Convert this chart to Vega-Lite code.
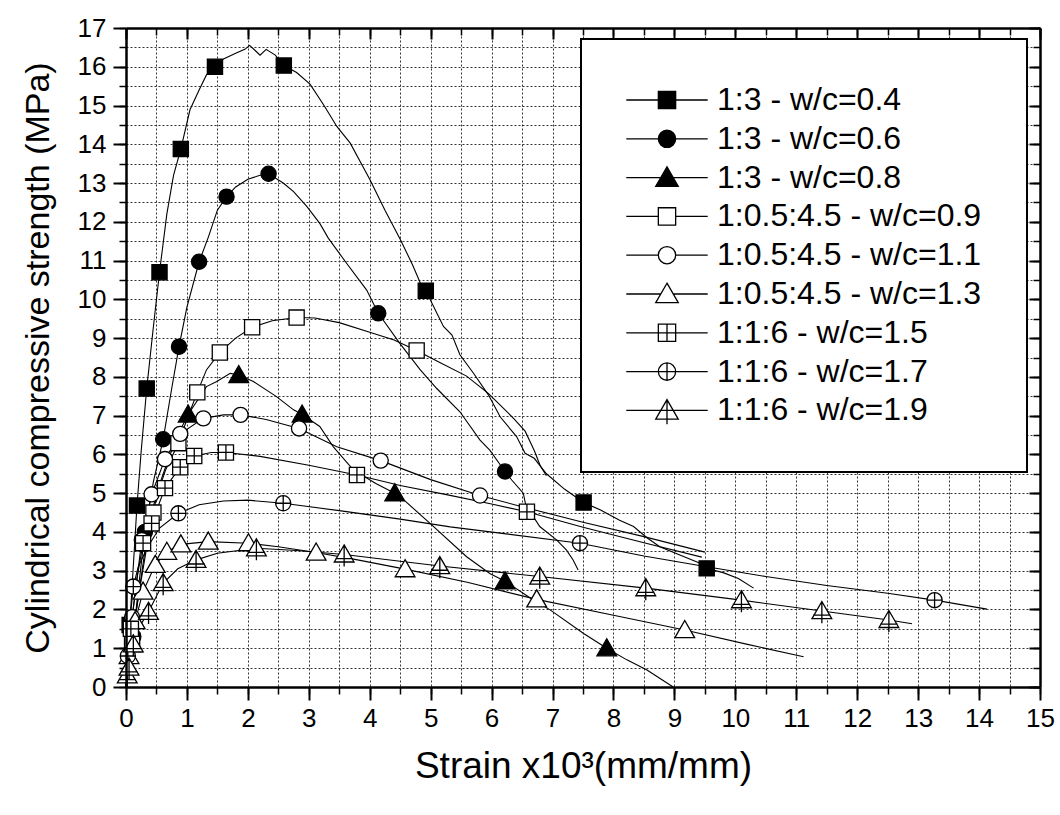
{
  "$schema": "https://vega.github.io/schema/vega-lite/v6.json",
  "width": 914,
  "height": 659,
  "autosize": "none",
  "padding": {"left": 126, "top": 28, "right": 20, "bottom": 128},
  "background": "white",
  "config": {
    "font": "Liberation Sans",
    "view": {"stroke": null},
    "legend": {"strokeWidth": 2},
    "axis": {"labelFont": "Liberation Sans", "titleFont": "Liberation Sans", "domainColor": "black", "tickColor": "black", "labelColor": "black", "titleColor": "black", "titleFontWeight": "normal"}
  },
  "datasets": {
    "curves": [
      {"series": "1:3 - w/c=0.4", "strain": 0, "stress": 0},
      {"series": "1:3 - w/c=0.4", "strain": 0.05, "stress": 1.3},
      {"series": "1:3 - w/c=0.4", "strain": 0.1, "stress": 2.6},
      {"series": "1:3 - w/c=0.4", "strain": 0.18, "stress": 4.68},
      {"series": "1:3 - w/c=0.4", "strain": 0.25, "stress": 6.1},
      {"series": "1:3 - w/c=0.4", "strain": 0.34, "stress": 7.7},
      {"series": "1:3 - w/c=0.4", "strain": 0.45, "stress": 9.3},
      {"series": "1:3 - w/c=0.4", "strain": 0.55, "stress": 10.7},
      {"series": "1:3 - w/c=0.4", "strain": 0.67, "stress": 12.2},
      {"series": "1:3 - w/c=0.4", "strain": 0.78, "stress": 13.2},
      {"series": "1:3 - w/c=0.4", "strain": 0.9, "stress": 13.88},
      {"series": "1:3 - w/c=0.4", "strain": 1.05, "stress": 14.89},
      {"series": "1:3 - w/c=0.4", "strain": 1.2, "stress": 15.4},
      {"series": "1:3 - w/c=0.4", "strain": 1.32, "stress": 15.79},
      {"series": "1:3 - w/c=0.4", "strain": 1.46, "stress": 16.0},
      {"series": "1:3 - w/c=0.4", "strain": 1.6, "stress": 16.2},
      {"series": "1:3 - w/c=0.4", "strain": 1.8, "stress": 16.35},
      {"series": "1:3 - w/c=0.4", "strain": 1.95, "stress": 16.45},
      {"series": "1:3 - w/c=0.4", "strain": 2.03, "stress": 16.55},
      {"series": "1:3 - w/c=0.4", "strain": 2.12, "stress": 16.42},
      {"series": "1:3 - w/c=0.4", "strain": 2.2, "stress": 16.3},
      {"series": "1:3 - w/c=0.4", "strain": 2.3, "stress": 16.45},
      {"series": "1:3 - w/c=0.4", "strain": 2.45, "stress": 16.3},
      {"series": "1:3 - w/c=0.4", "strain": 2.59, "stress": 16.03},
      {"series": "1:3 - w/c=0.4", "strain": 2.8, "stress": 15.85},
      {"series": "1:3 - w/c=0.4", "strain": 3.02, "stress": 15.55},
      {"series": "1:3 - w/c=0.4", "strain": 3.25, "stress": 15.0},
      {"series": "1:3 - w/c=0.4", "strain": 3.46, "stress": 14.46},
      {"series": "1:3 - w/c=0.4", "strain": 3.68, "stress": 14.03},
      {"series": "1:3 - w/c=0.4", "strain": 4.0, "stress": 13.1},
      {"series": "1:3 - w/c=0.4", "strain": 4.25, "stress": 12.3},
      {"series": "1:3 - w/c=0.4", "strain": 4.5, "stress": 11.55},
      {"series": "1:3 - w/c=0.4", "strain": 4.7, "stress": 10.9},
      {"series": "1:3 - w/c=0.4", "strain": 4.83, "stress": 10.42},
      {"series": "1:3 - w/c=0.4", "strain": 4.92, "stress": 10.22},
      {"series": "1:3 - w/c=0.4", "strain": 5.21, "stress": 9.3},
      {"series": "1:3 - w/c=0.4", "strain": 5.35, "stress": 9.08},
      {"series": "1:3 - w/c=0.4", "strain": 5.48, "stress": 8.57},
      {"series": "1:3 - w/c=0.4", "strain": 5.7, "stress": 8.1},
      {"series": "1:3 - w/c=0.4", "strain": 5.95, "stress": 7.53},
      {"series": "1:3 - w/c=0.4", "strain": 6.14, "stress": 6.97},
      {"series": "1:3 - w/c=0.4", "strain": 6.41, "stress": 6.46},
      {"series": "1:3 - w/c=0.4", "strain": 6.55, "stress": 6.03},
      {"series": "1:3 - w/c=0.4", "strain": 6.7, "stress": 5.9},
      {"series": "1:3 - w/c=0.4", "strain": 6.9, "stress": 5.5},
      {"series": "1:3 - w/c=0.4", "strain": 7.2, "stress": 5.1},
      {"series": "1:3 - w/c=0.4", "strain": 7.51, "stress": 4.76},
      {"series": "1:3 - w/c=0.4", "strain": 7.78, "stress": 4.57},
      {"series": "1:3 - w/c=0.4", "strain": 8.1, "stress": 4.3},
      {"series": "1:3 - w/c=0.4", "strain": 8.33, "stress": 4.14},
      {"series": "1:3 - w/c=0.4", "strain": 8.55, "stress": 3.85},
      {"series": "1:3 - w/c=0.4", "strain": 8.76, "stress": 3.62},
      {"series": "1:3 - w/c=0.4", "strain": 9.1, "stress": 3.4},
      {"series": "1:3 - w/c=0.4", "strain": 9.42, "stress": 3.19},
      {"series": "1:3 - w/c=0.4", "strain": 9.53, "stress": 3.06},
      {"series": "1:3 - w/c=0.4", "strain": 9.8, "stress": 2.95},
      {"series": "1:3 - w/c=0.4", "strain": 10.05, "stress": 2.8},
      {"series": "1:3 - w/c=0.4", "strain": 10.3, "stress": 2.55},
      {"series": "1:3 - w/c=0.6", "strain": 0, "stress": 0},
      {"series": "1:3 - w/c=0.6", "strain": 0.12, "stress": 1.3},
      {"series": "1:3 - w/c=0.6", "strain": 0.2, "stress": 2.5},
      {"series": "1:3 - w/c=0.6", "strain": 0.31, "stress": 4.0},
      {"series": "1:3 - w/c=0.6", "strain": 0.45, "stress": 5.3},
      {"series": "1:3 - w/c=0.6", "strain": 0.61, "stress": 6.39},
      {"series": "1:3 - w/c=0.6", "strain": 0.75, "stress": 7.7},
      {"series": "1:3 - w/c=0.6", "strain": 0.87, "stress": 8.78},
      {"series": "1:3 - w/c=0.6", "strain": 1.0, "stress": 9.8},
      {"series": "1:3 - w/c=0.6", "strain": 1.2, "stress": 10.97},
      {"series": "1:3 - w/c=0.6", "strain": 1.35, "stress": 11.6},
      {"series": "1:3 - w/c=0.6", "strain": 1.5, "stress": 12.3},
      {"series": "1:3 - w/c=0.6", "strain": 1.65, "stress": 12.65},
      {"series": "1:3 - w/c=0.6", "strain": 1.8, "stress": 12.9},
      {"series": "1:3 - w/c=0.6", "strain": 2.0, "stress": 13.1},
      {"series": "1:3 - w/c=0.6", "strain": 2.2, "stress": 13.2},
      {"series": "1:3 - w/c=0.6", "strain": 2.34, "stress": 13.24},
      {"series": "1:3 - w/c=0.6", "strain": 2.58, "stress": 13.0},
      {"series": "1:3 - w/c=0.6", "strain": 2.75, "stress": 12.78},
      {"series": "1:3 - w/c=0.6", "strain": 2.97, "stress": 12.39},
      {"series": "1:3 - w/c=0.6", "strain": 3.18, "stress": 11.96},
      {"series": "1:3 - w/c=0.6", "strain": 3.32, "stress": 11.58},
      {"series": "1:3 - w/c=0.6", "strain": 3.62, "stress": 10.93},
      {"series": "1:3 - w/c=0.6", "strain": 3.95, "stress": 10.24},
      {"series": "1:3 - w/c=0.6", "strain": 4.14, "stress": 9.64},
      {"series": "1:3 - w/c=0.6", "strain": 4.5, "stress": 8.85},
      {"series": "1:3 - w/c=0.6", "strain": 4.83, "stress": 8.18},
      {"series": "1:3 - w/c=0.6", "strain": 5.1, "stress": 7.7},
      {"series": "1:3 - w/c=0.6", "strain": 5.48, "stress": 7.1},
      {"series": "1:3 - w/c=0.6", "strain": 5.81, "stress": 6.37},
      {"series": "1:3 - w/c=0.6", "strain": 5.97, "stress": 6.11},
      {"series": "1:3 - w/c=0.6", "strain": 6.22, "stress": 5.56},
      {"series": "1:3 - w/c=0.6", "strain": 6.33, "stress": 5.34},
      {"series": "1:3 - w/c=0.6", "strain": 6.52, "stress": 5.0},
      {"series": "1:3 - w/c=0.6", "strain": 6.56, "stress": 4.7},
      {"series": "1:3 - w/c=0.6", "strain": 6.79, "stress": 4.14},
      {"series": "1:3 - w/c=0.6", "strain": 7.07, "stress": 3.79},
      {"series": "1:3 - w/c=0.6", "strain": 7.23, "stress": 3.53},
      {"series": "1:3 - w/c=0.6", "strain": 7.34, "stress": 3.27},
      {"series": "1:3 - w/c=0.6", "strain": 7.42, "stress": 3.02},
      {"series": "1:3 - w/c=0.8", "strain": 0, "stress": 0},
      {"series": "1:3 - w/c=0.8", "strain": 0.1, "stress": 1.25},
      {"series": "1:3 - w/c=0.8", "strain": 0.2, "stress": 2.3},
      {"series": "1:3 - w/c=0.8", "strain": 0.35, "stress": 3.95},
      {"series": "1:3 - w/c=0.8", "strain": 0.5, "stress": 5.0},
      {"series": "1:3 - w/c=0.8", "strain": 0.7, "stress": 5.9},
      {"series": "1:3 - w/c=0.8", "strain": 0.85, "stress": 6.5},
      {"series": "1:3 - w/c=0.8", "strain": 1.02, "stress": 7.03},
      {"series": "1:3 - w/c=0.8", "strain": 1.32, "stress": 7.75},
      {"series": "1:3 - w/c=0.8", "strain": 1.49, "stress": 7.88},
      {"series": "1:3 - w/c=0.8", "strain": 1.71, "stress": 8.09},
      {"series": "1:3 - w/c=0.8", "strain": 1.85, "stress": 8.05},
      {"series": "1:3 - w/c=0.8", "strain": 2.09, "stress": 7.88},
      {"series": "1:3 - w/c=0.8", "strain": 2.47, "stress": 7.49},
      {"series": "1:3 - w/c=0.8", "strain": 2.75, "stress": 7.15},
      {"series": "1:3 - w/c=0.8", "strain": 2.89, "stress": 7.03},
      {"series": "1:3 - w/c=0.8", "strain": 3.18, "stress": 6.72},
      {"series": "1:3 - w/c=0.8", "strain": 3.4, "stress": 6.2},
      {"series": "1:3 - w/c=0.8", "strain": 3.73, "stress": 5.6},
      {"series": "1:3 - w/c=0.8", "strain": 4.1, "stress": 5.25},
      {"series": "1:3 - w/c=0.8", "strain": 4.41, "stress": 5.0},
      {"series": "1:3 - w/c=0.8", "strain": 4.5, "stress": 4.91},
      {"series": "1:3 - w/c=0.8", "strain": 4.99, "stress": 4.22},
      {"series": "1:3 - w/c=0.8", "strain": 5.59, "stress": 3.36},
      {"series": "1:3 - w/c=0.8", "strain": 5.97, "stress": 2.93},
      {"series": "1:3 - w/c=0.8", "strain": 6.22, "stress": 2.73},
      {"series": "1:3 - w/c=0.8", "strain": 6.69, "stress": 2.24},
      {"series": "1:3 - w/c=0.8", "strain": 6.96, "stress": 1.99},
      {"series": "1:3 - w/c=0.8", "strain": 7.51, "stress": 1.38},
      {"series": "1:3 - w/c=0.8", "strain": 7.89, "stress": 1.0},
      {"series": "1:3 - w/c=0.8", "strain": 8.22, "stress": 0.7},
      {"series": "1:3 - w/c=0.8", "strain": 8.55, "stress": 0.44},
      {"series": "1:3 - w/c=0.8", "strain": 8.98, "stress": 0.0},
      {"series": "1:0.5:4.5 - w/c=0.9", "strain": 0, "stress": 0},
      {"series": "1:0.5:4.5 - w/c=0.9", "strain": 0.1, "stress": 1.2},
      {"series": "1:0.5:4.5 - w/c=0.9", "strain": 0.2, "stress": 2.3},
      {"series": "1:0.5:4.5 - w/c=0.9", "strain": 0.35, "stress": 3.7},
      {"series": "1:0.5:4.5 - w/c=0.9", "strain": 0.5, "stress": 4.9},
      {"series": "1:0.5:4.5 - w/c=0.9", "strain": 0.65, "stress": 5.6},
      {"series": "1:0.5:4.5 - w/c=0.9", "strain": 0.86, "stress": 6.29},
      {"series": "1:0.5:4.5 - w/c=0.9", "strain": 1.0, "stress": 6.9},
      {"series": "1:0.5:4.5 - w/c=0.9", "strain": 1.17, "stress": 7.6},
      {"series": "1:0.5:4.5 - w/c=0.9", "strain": 1.32, "stress": 8.18},
      {"series": "1:0.5:4.5 - w/c=0.9", "strain": 1.54, "stress": 8.63},
      {"series": "1:0.5:4.5 - w/c=0.9", "strain": 1.8, "stress": 9.0},
      {"series": "1:0.5:4.5 - w/c=0.9", "strain": 2.07, "stress": 9.28},
      {"series": "1:0.5:4.5 - w/c=0.9", "strain": 2.4, "stress": 9.45},
      {"series": "1:0.5:4.5 - w/c=0.9", "strain": 2.8, "stress": 9.53},
      {"series": "1:0.5:4.5 - w/c=0.9", "strain": 3.1, "stress": 9.52},
      {"series": "1:0.5:4.5 - w/c=0.9", "strain": 3.5, "stress": 9.4},
      {"series": "1:0.5:4.5 - w/c=0.9", "strain": 4.0, "stress": 9.15},
      {"series": "1:0.5:4.5 - w/c=0.9", "strain": 4.4, "stress": 8.95},
      {"series": "1:0.5:4.5 - w/c=0.9", "strain": 4.77, "stress": 8.68},
      {"series": "1:0.5:4.5 - w/c=0.9", "strain": 5.15, "stress": 8.37},
      {"series": "1:0.5:4.5 - w/c=0.9", "strain": 5.59, "stress": 8.02},
      {"series": "1:0.5:4.5 - w/c=0.9", "strain": 5.95, "stress": 7.57},
      {"series": "1:0.5:4.5 - w/c=0.9", "strain": 6.36, "stress": 6.93},
      {"series": "1:0.5:4.5 - w/c=0.9", "strain": 6.55, "stress": 6.6},
      {"series": "1:0.5:4.5 - w/c=0.9", "strain": 6.7, "stress": 6.1},
      {"series": "1:0.5:4.5 - w/c=0.9", "strain": 6.8, "stress": 5.7},
      {"series": "1:0.5:4.5 - w/c=0.9", "strain": 6.9, "stress": 5.45},
      {"series": "1:0.5:4.5 - w/c=1.1", "strain": 0, "stress": 0},
      {"series": "1:0.5:4.5 - w/c=1.1", "strain": 0.1, "stress": 1.8},
      {"series": "1:0.5:4.5 - w/c=1.1", "strain": 0.26, "stress": 3.79},
      {"series": "1:0.5:4.5 - w/c=1.1", "strain": 0.42, "stress": 4.97},
      {"series": "1:0.5:4.5 - w/c=1.1", "strain": 0.64, "stress": 5.88},
      {"series": "1:0.5:4.5 - w/c=1.1", "strain": 0.89, "stress": 6.53},
      {"series": "1:0.5:4.5 - w/c=1.1", "strain": 1.27, "stress": 6.93},
      {"series": "1:0.5:4.5 - w/c=1.1", "strain": 1.6, "stress": 7.02},
      {"series": "1:0.5:4.5 - w/c=1.1", "strain": 1.88, "stress": 7.02},
      {"series": "1:0.5:4.5 - w/c=1.1", "strain": 2.3, "stress": 6.9},
      {"series": "1:0.5:4.5 - w/c=1.1", "strain": 2.84, "stress": 6.67},
      {"series": "1:0.5:4.5 - w/c=1.1", "strain": 3.46, "stress": 6.2},
      {"series": "1:0.5:4.5 - w/c=1.1", "strain": 4.18, "stress": 5.84},
      {"series": "1:0.5:4.5 - w/c=1.1", "strain": 5.0, "stress": 5.35},
      {"series": "1:0.5:4.5 - w/c=1.1", "strain": 5.81, "stress": 4.94},
      {"series": "1:0.5:4.5 - w/c=1.1", "strain": 6.5, "stress": 4.65},
      {"series": "1:0.5:4.5 - w/c=1.1", "strain": 7.5, "stress": 4.25},
      {"series": "1:0.5:4.5 - w/c=1.1", "strain": 8.5, "stress": 3.88},
      {"series": "1:0.5:4.5 - w/c=1.1", "strain": 9.5, "stress": 3.48},
      {"series": "1:0.5:4.5 - w/c=1.3", "strain": 0, "stress": 0},
      {"series": "1:0.5:4.5 - w/c=1.3", "strain": 0.05, "stress": 0.8},
      {"series": "1:0.5:4.5 - w/c=1.3", "strain": 0.15, "stress": 1.7},
      {"series": "1:0.5:4.5 - w/c=1.3", "strain": 0.28, "stress": 2.46},
      {"series": "1:0.5:4.5 - w/c=1.3", "strain": 0.48, "stress": 3.15},
      {"series": "1:0.5:4.5 - w/c=1.3", "strain": 0.67, "stress": 3.49},
      {"series": "1:0.5:4.5 - w/c=1.3", "strain": 0.9, "stress": 3.68},
      {"series": "1:0.5:4.5 - w/c=1.3", "strain": 1.35, "stress": 3.75},
      {"series": "1:0.5:4.5 - w/c=1.3", "strain": 2.01, "stress": 3.71},
      {"series": "1:0.5:4.5 - w/c=1.3", "strain": 2.5, "stress": 3.62},
      {"series": "1:0.5:4.5 - w/c=1.3", "strain": 3.12, "stress": 3.47},
      {"series": "1:0.5:4.5 - w/c=1.3", "strain": 3.8, "stress": 3.28},
      {"series": "1:0.5:4.5 - w/c=1.3", "strain": 4.58, "stress": 3.04},
      {"series": "1:0.5:4.5 - w/c=1.3", "strain": 5.6, "stress": 2.7},
      {"series": "1:0.5:4.5 - w/c=1.3", "strain": 6.74, "stress": 2.26},
      {"series": "1:0.5:4.5 - w/c=1.3", "strain": 8.0, "stress": 1.85},
      {"series": "1:0.5:4.5 - w/c=1.3", "strain": 9.17, "stress": 1.47},
      {"series": "1:0.5:4.5 - w/c=1.3", "strain": 10.2, "stress": 1.1},
      {"series": "1:0.5:4.5 - w/c=1.3", "strain": 11.12, "stress": 0.78},
      {"series": "1:1:6 - w/c=1.5", "strain": 0, "stress": 0},
      {"series": "1:1:6 - w/c=1.5", "strain": 0.04, "stress": 1.0},
      {"series": "1:1:6 - w/c=1.5", "strain": 0.08, "stress": 1.5},
      {"series": "1:1:6 - w/c=1.5", "strain": 0.18, "stress": 2.8},
      {"series": "1:1:6 - w/c=1.5", "strain": 0.28, "stress": 3.71},
      {"series": "1:1:6 - w/c=1.5", "strain": 0.42, "stress": 4.22},
      {"series": "1:1:6 - w/c=1.5", "strain": 0.64, "stress": 5.13},
      {"series": "1:1:6 - w/c=1.5", "strain": 0.89, "stress": 5.67},
      {"series": "1:1:6 - w/c=1.5", "strain": 1.12, "stress": 5.96},
      {"series": "1:1:6 - w/c=1.5", "strain": 1.4, "stress": 6.05},
      {"series": "1:1:6 - w/c=1.5", "strain": 1.64, "stress": 6.05},
      {"series": "1:1:6 - w/c=1.5", "strain": 2.2, "stress": 5.95},
      {"series": "1:1:6 - w/c=1.5", "strain": 3.0, "stress": 5.72},
      {"series": "1:1:6 - w/c=1.5", "strain": 3.79, "stress": 5.47},
      {"series": "1:1:6 - w/c=1.5", "strain": 4.5, "stress": 5.2},
      {"series": "1:1:6 - w/c=1.5", "strain": 5.3, "stress": 4.95},
      {"series": "1:1:6 - w/c=1.5", "strain": 6.0, "stress": 4.72},
      {"series": "1:1:6 - w/c=1.5", "strain": 6.58, "stress": 4.52},
      {"series": "1:1:6 - w/c=1.5", "strain": 7.5, "stress": 4.12},
      {"series": "1:1:6 - w/c=1.5", "strain": 8.5, "stress": 3.72},
      {"series": "1:1:6 - w/c=1.5", "strain": 9.45, "stress": 3.35},
      {"series": "1:1:6 - w/c=1.7", "strain": 0, "stress": 0},
      {"series": "1:1:6 - w/c=1.7", "strain": 0.03, "stress": 0.8},
      {"series": "1:1:6 - w/c=1.7", "strain": 0.07, "stress": 1.8},
      {"series": "1:1:6 - w/c=1.7", "strain": 0.12, "stress": 2.59},
      {"series": "1:1:6 - w/c=1.7", "strain": 0.2, "stress": 3.1},
      {"series": "1:1:6 - w/c=1.7", "strain": 0.35, "stress": 3.6},
      {"series": "1:1:6 - w/c=1.7", "strain": 0.55, "stress": 4.1},
      {"series": "1:1:6 - w/c=1.7", "strain": 0.86, "stress": 4.48},
      {"series": "1:1:6 - w/c=1.7", "strain": 1.2, "stress": 4.7},
      {"series": "1:1:6 - w/c=1.7", "strain": 1.6, "stress": 4.8},
      {"series": "1:1:6 - w/c=1.7", "strain": 2.0, "stress": 4.82},
      {"series": "1:1:6 - w/c=1.7", "strain": 2.58, "stress": 4.74},
      {"series": "1:1:6 - w/c=1.7", "strain": 3.5, "stress": 4.55},
      {"series": "1:1:6 - w/c=1.7", "strain": 4.5, "stress": 4.33},
      {"series": "1:1:6 - w/c=1.7", "strain": 5.32, "stress": 4.13},
      {"series": "1:1:6 - w/c=1.7", "strain": 6.14, "stress": 3.97},
      {"series": "1:1:6 - w/c=1.7", "strain": 7.45, "stress": 3.71},
      {"series": "1:1:6 - w/c=1.7", "strain": 8.5, "stress": 3.38},
      {"series": "1:1:6 - w/c=1.7", "strain": 9.53, "stress": 3.1},
      {"series": "1:1:6 - w/c=1.7", "strain": 10.5, "stress": 2.85},
      {"series": "1:1:6 - w/c=1.7", "strain": 11.5, "stress": 2.62},
      {"series": "1:1:6 - w/c=1.7", "strain": 12.5, "stress": 2.42},
      {"series": "1:1:6 - w/c=1.7", "strain": 13.27, "stress": 2.24},
      {"series": "1:1:6 - w/c=1.7", "strain": 14.13, "stress": 2.01},
      {"series": "1:1:6 - w/c=1.9", "strain": 0, "stress": 0},
      {"series": "1:1:6 - w/c=1.9", "strain": 0.05, "stress": 0.5},
      {"series": "1:1:6 - w/c=1.9", "strain": 0.12, "stress": 1.1},
      {"series": "1:1:6 - w/c=1.9", "strain": 0.2, "stress": 1.5},
      {"series": "1:1:6 - w/c=1.9", "strain": 0.37, "stress": 1.94},
      {"series": "1:1:6 - w/c=1.9", "strain": 0.61, "stress": 2.68},
      {"series": "1:1:6 - w/c=1.9", "strain": 0.85, "stress": 3.05},
      {"series": "1:1:6 - w/c=1.9", "strain": 1.15, "stress": 3.28},
      {"series": "1:1:6 - w/c=1.9", "strain": 1.5, "stress": 3.45},
      {"series": "1:1:6 - w/c=1.9", "strain": 2.14, "stress": 3.58},
      {"series": "1:1:6 - w/c=1.9", "strain": 2.8, "stress": 3.52},
      {"series": "1:1:6 - w/c=1.9", "strain": 3.58, "stress": 3.42},
      {"series": "1:1:6 - w/c=1.9", "strain": 5.15, "stress": 3.12},
      {"series": "1:1:6 - w/c=1.9", "strain": 6.79, "stress": 2.85},
      {"series": "1:1:6 - w/c=1.9", "strain": 8.53, "stress": 2.55},
      {"series": "1:1:6 - w/c=1.9", "strain": 10.1, "stress": 2.24},
      {"series": "1:1:6 - w/c=1.9", "strain": 11.42, "stress": 1.96},
      {"series": "1:1:6 - w/c=1.9", "strain": 12.52, "stress": 1.73},
      {"series": "1:1:6 - w/c=1.9", "strain": 12.9, "stress": 1.63}
    ],
    "markers": [
      {"series": "1:3 - w/c=0.4", "strain": 0.06, "stress": 1.6},
      {"series": "1:3 - w/c=0.4", "strain": 0.18, "stress": 4.68},
      {"series": "1:3 - w/c=0.4", "strain": 0.34, "stress": 7.7},
      {"series": "1:3 - w/c=0.4", "strain": 0.55, "stress": 10.7},
      {"series": "1:3 - w/c=0.4", "strain": 0.9, "stress": 13.88},
      {"series": "1:3 - w/c=0.4", "strain": 1.46, "stress": 16.0},
      {"series": "1:3 - w/c=0.4", "strain": 2.59, "stress": 16.03},
      {"series": "1:3 - w/c=0.4", "strain": 4.92, "stress": 10.22},
      {"series": "1:3 - w/c=0.4", "strain": 7.51, "stress": 4.76},
      {"series": "1:3 - w/c=0.4", "strain": 9.53, "stress": 3.06},
      {"series": "1:3 - w/c=0.6", "strain": 0.12, "stress": 1.3},
      {"series": "1:3 - w/c=0.6", "strain": 0.31, "stress": 4.0},
      {"series": "1:3 - w/c=0.6", "strain": 0.61, "stress": 6.39},
      {"series": "1:3 - w/c=0.6", "strain": 0.87, "stress": 8.78},
      {"series": "1:3 - w/c=0.6", "strain": 1.2, "stress": 10.97},
      {"series": "1:3 - w/c=0.6", "strain": 1.65, "stress": 12.65},
      {"series": "1:3 - w/c=0.6", "strain": 2.34, "stress": 13.24},
      {"series": "1:3 - w/c=0.6", "strain": 4.14, "stress": 9.64},
      {"series": "1:3 - w/c=0.6", "strain": 6.22, "stress": 5.56},
      {"series": "1:3 - w/c=0.8", "strain": 0.1, "stress": 1.1},
      {"series": "1:3 - w/c=0.8", "strain": 1.02, "stress": 7.03},
      {"series": "1:3 - w/c=0.8", "strain": 1.85, "stress": 8.05},
      {"series": "1:3 - w/c=0.8", "strain": 2.89, "stress": 7.03},
      {"series": "1:3 - w/c=0.8", "strain": 4.41, "stress": 5.0},
      {"series": "1:3 - w/c=0.8", "strain": 6.22, "stress": 2.73},
      {"series": "1:3 - w/c=0.8", "strain": 7.89, "stress": 1.0},
      {"series": "1:0.5:4.5 - w/c=0.9", "strain": 0.1, "stress": 1.2},
      {"series": "1:0.5:4.5 - w/c=0.9", "strain": 0.45, "stress": 4.5},
      {"series": "1:0.5:4.5 - w/c=0.9", "strain": 0.86, "stress": 6.29},
      {"series": "1:0.5:4.5 - w/c=0.9", "strain": 1.17, "stress": 7.6},
      {"series": "1:0.5:4.5 - w/c=0.9", "strain": 1.54, "stress": 8.63},
      {"series": "1:0.5:4.5 - w/c=0.9", "strain": 2.07, "stress": 9.28},
      {"series": "1:0.5:4.5 - w/c=0.9", "strain": 2.8, "stress": 9.53},
      {"series": "1:0.5:4.5 - w/c=0.9", "strain": 4.77, "stress": 8.68},
      {"series": "1:0.5:4.5 - w/c=1.1", "strain": 0.1, "stress": 1.8},
      {"series": "1:0.5:4.5 - w/c=1.1", "strain": 0.26, "stress": 3.79},
      {"series": "1:0.5:4.5 - w/c=1.1", "strain": 0.42, "stress": 4.97},
      {"series": "1:0.5:4.5 - w/c=1.1", "strain": 0.64, "stress": 5.88},
      {"series": "1:0.5:4.5 - w/c=1.1", "strain": 0.89, "stress": 6.53},
      {"series": "1:0.5:4.5 - w/c=1.1", "strain": 1.27, "stress": 6.93},
      {"series": "1:0.5:4.5 - w/c=1.1", "strain": 1.88, "stress": 7.02},
      {"series": "1:0.5:4.5 - w/c=1.1", "strain": 2.84, "stress": 6.67},
      {"series": "1:0.5:4.5 - w/c=1.1", "strain": 4.18, "stress": 5.84},
      {"series": "1:0.5:4.5 - w/c=1.1", "strain": 5.81, "stress": 4.94},
      {"series": "1:0.5:4.5 - w/c=1.3", "strain": 0.05, "stress": 0.8},
      {"series": "1:0.5:4.5 - w/c=1.3", "strain": 0.15, "stress": 1.7},
      {"series": "1:0.5:4.5 - w/c=1.3", "strain": 0.28, "stress": 2.46},
      {"series": "1:0.5:4.5 - w/c=1.3", "strain": 0.48, "stress": 3.15},
      {"series": "1:0.5:4.5 - w/c=1.3", "strain": 0.67, "stress": 3.49},
      {"series": "1:0.5:4.5 - w/c=1.3", "strain": 0.9, "stress": 3.68},
      {"series": "1:0.5:4.5 - w/c=1.3", "strain": 1.35, "stress": 3.75},
      {"series": "1:0.5:4.5 - w/c=1.3", "strain": 2.01, "stress": 3.71},
      {"series": "1:0.5:4.5 - w/c=1.3", "strain": 3.12, "stress": 3.47},
      {"series": "1:0.5:4.5 - w/c=1.3", "strain": 4.58, "stress": 3.04},
      {"series": "1:0.5:4.5 - w/c=1.3", "strain": 6.74, "stress": 2.26},
      {"series": "1:0.5:4.5 - w/c=1.3", "strain": 9.17, "stress": 1.47},
      {"series": "1:1:6 - w/c=1.5", "strain": 0.08, "stress": 1.5},
      {"series": "1:1:6 - w/c=1.5", "strain": 0.28, "stress": 3.71},
      {"series": "1:1:6 - w/c=1.5", "strain": 0.42, "stress": 4.22},
      {"series": "1:1:6 - w/c=1.5", "strain": 0.64, "stress": 5.13},
      {"series": "1:1:6 - w/c=1.5", "strain": 0.89, "stress": 5.67},
      {"series": "1:1:6 - w/c=1.5", "strain": 1.12, "stress": 5.96},
      {"series": "1:1:6 - w/c=1.5", "strain": 1.64, "stress": 6.05},
      {"series": "1:1:6 - w/c=1.5", "strain": 3.79, "stress": 5.47},
      {"series": "1:1:6 - w/c=1.5", "strain": 6.58, "stress": 4.52},
      {"series": "1:1:6 - w/c=1.7", "strain": 0.03, "stress": 0.8},
      {"series": "1:1:6 - w/c=1.7", "strain": 0.12, "stress": 2.59},
      {"series": "1:1:6 - w/c=1.7", "strain": 0.86, "stress": 4.48},
      {"series": "1:1:6 - w/c=1.7", "strain": 2.58, "stress": 4.74},
      {"series": "1:1:6 - w/c=1.7", "strain": 7.45, "stress": 3.71},
      {"series": "1:1:6 - w/c=1.7", "strain": 13.27, "stress": 2.24},
      {"series": "1:1:6 - w/c=1.9", "strain": 0.02, "stress": 0.3},
      {"series": "1:1:6 - w/c=1.9", "strain": 0.05, "stress": 0.5},
      {"series": "1:1:6 - w/c=1.9", "strain": 0.12, "stress": 1.1},
      {"series": "1:1:6 - w/c=1.9", "strain": 0.37, "stress": 1.94},
      {"series": "1:1:6 - w/c=1.9", "strain": 0.61, "stress": 2.68},
      {"series": "1:1:6 - w/c=1.9", "strain": 1.15, "stress": 3.28},
      {"series": "1:1:6 - w/c=1.9", "strain": 2.14, "stress": 3.58},
      {"series": "1:1:6 - w/c=1.9", "strain": 3.58, "stress": 3.42},
      {"series": "1:1:6 - w/c=1.9", "strain": 5.15, "stress": 3.12},
      {"series": "1:1:6 - w/c=1.9", "strain": 6.79, "stress": 2.85},
      {"series": "1:1:6 - w/c=1.9", "strain": 8.53, "stress": 2.55},
      {"series": "1:1:6 - w/c=1.9", "strain": 10.1, "stress": 2.24},
      {"series": "1:1:6 - w/c=1.9", "strain": 11.42, "stress": 1.96},
      {"series": "1:1:6 - w/c=1.9", "strain": 12.52, "stress": 1.73}
    ]
  },
  "layer": [
    {
      "data": {"name": "curves"},
      "mark": {"type": "line", "color": "black", "strokeWidth": 1.1},
      "encoding": {
        "x": {"field": "strain", "type": "quantitative", "scale": {"domain": [0, 15], "nice": false, "zero": false},
          "axis": {"orient": "bottom", "values": [0,1,2,3,4,5,6,7,8,9,10,11,12,13,14,15], "grid": false, "tickSize": 13, "tickWidth": 2, "domainWidth": 2.5, "labelFontSize": 26, "labelPadding": 5, "labelFlush": false, "labelOverlap": false, "title": "Strain x10³(mm/mm)", "titleFontSize": 37, "titlePadding": 17, "zindex": 1}},
        "y": {"field": "stress", "type": "quantitative", "scale": {"domain": [0, 17], "nice": false},
          "axis": {"orient": "left", "values": [0,1,2,3,4,5,6,7,8,9,10,11,12,13,14,15,16,17], "grid": false, "tickSize": 13, "tickWidth": 2, "domainWidth": 2.5, "labelFontSize": 26, "labelPadding": 7, "labelFlush": false, "labelOverlap": false, "title": "Cylindrical compressive strength (MPa)", "titleFontSize": 34, "titlePadding": 22, "zindex": 1}},
        "detail": {"field": "series", "type": "nominal"}
      }
    },
    {
      "data": {"name": "markers"},
      "mark": {"type": "point", "stroke": "black", "strokeWidth": 1.3, "opacity": 1, "size": 230},
      "encoding": {
        "x": {"field": "strain", "type": "quantitative", "scale": {"domain": [0, 15], "nice": false, "zero": false},
          "axis": {"orient": "bottom", "values": [0,0.5,1,1.5,2,2.5,3,3.5,4,4.5,5,5.5,6,6.5,7,7.5,8,8.5,9,9.5,10,10.5,11,11.5,12,12.5,13,13.5,14,14.5,15], "grid": true, "gridDash": [2, 2], "gridColor": "#333", "gridWidth": 1, "tickSize": 7, "tickWidth": 1.5, "labels": false, "domain": false, "title": null, "zindex": 0}},
        "y": {"field": "stress", "type": "quantitative", "scale": {"domain": [0, 17], "nice": false},
          "axis": {"orient": "left", "values": [0,0.5,1,1.5,2,2.5,3,3.5,4,4.5,5,5.5,6,6.5,7,7.5,8,8.5,9,9.5,10,10.5,11,11.5,12,12.5,13,13.5,14,14.5,15,15.5,16,16.5,17], "grid": true, "gridDash": [2, 2], "gridColor": "#333", "gridWidth": 1, "tickSize": 7, "tickWidth": 1.5, "labels": false, "domain": false, "title": null, "zindex": 0}},
        "shape": {"field": "series", "type": "nominal",
          "scale": {"domain": ["1:3 - w/c=0.4", "1:3 - w/c=0.6", "1:3 - w/c=0.8", "1:0.5:4.5 - w/c=0.9", "1:0.5:4.5 - w/c=1.1", "1:0.5:4.5 - w/c=1.3", "1:1:6 - w/c=1.5", "1:1:6 - w/c=1.7", "1:1:6 - w/c=1.9"],
            "range": ["M-1,-1H1V1H-1Z", "M-1,0A1,1,0,1,0,1,0A1,1,0,1,0,-1,0Z", "M0,-1.25L1.3,1H-1.3Z", "M-1,-1H1V1H-1Z", "M-1,0A1,1,0,1,0,1,0A1,1,0,1,0,-1,0Z", "M0,-1.25L1.3,1H-1.3Z", "M-1,-1H1V1H-1ZM0,-1V1M-1,0H1", "M-1,0A1,1,0,1,0,1,0A1,1,0,1,0,-1,0ZM0,-1V1M-1,0H1", "M0,-1.25L1.3,1H-1.3ZM0,-1.25V1.6M-1.15,0.55H1.15"]},
          "legend": null},
        "fill": {"field": "series", "type": "nominal",
          "scale": {"domain": ["1:3 - w/c=0.4", "1:3 - w/c=0.6", "1:3 - w/c=0.8", "1:0.5:4.5 - w/c=0.9", "1:0.5:4.5 - w/c=1.1", "1:0.5:4.5 - w/c=1.3", "1:1:6 - w/c=1.5", "1:1:6 - w/c=1.7", "1:1:6 - w/c=1.9"],
            "range": ["black", "black", "black", "white", "white", "white", "white", "white", "white"]},
          "legend": null}
      }
    },
    {
      "data": {"name": "markers"},
      "mark": {"type": "point", "opacity": 0},
      "encoding": {
        "x": {"field": "strain", "type": "quantitative", "scale": {"domain": [0, 15], "nice": false, "zero": false},
          "axis": {"orient": "top", "values": [0,1,2,3,4,5,6,7,8,9,10,11,12,13,14,15], "grid": false, "tickSize": -11, "tickWidth": 2, "domainWidth": 2.5, "labels": false, "title": null, "zindex": 1}},
        "y": {"field": "stress", "type": "quantitative", "scale": {"domain": [0, 17], "nice": false},
          "axis": {"orient": "right", "values": [0,1,2,3,4,5,6,7,8,9,10,11,12,13,14,15,16,17], "grid": false, "tickSize": -11, "tickWidth": 2, "domainWidth": 2.5, "labels": false, "title": null, "zindex": 1}}
      }
    },
    {
      "data": {"name": "markers"},
      "mark": {"type": "point", "opacity": 0},
      "encoding": {
        "x": {"field": "strain", "type": "quantitative", "scale": {"domain": [0, 15], "nice": false, "zero": false},
          "axis": {"orient": "top", "values": [0,0.5,1,1.5,2,2.5,3,3.5,4,4.5,5,5.5,6,6.5,7,7.5,8,8.5,9,9.5,10,10.5,11,11.5,12,12.5,13,13.5,14,14.5,15], "grid": false, "tickSize": -7, "tickWidth": 1.5, "domain": false, "labels": false, "title": null, "zindex": 1}},
        "y": {"field": "stress", "type": "quantitative", "scale": {"domain": [0, 17], "nice": false},
          "axis": {"orient": "right", "values": [0,0.5,1,1.5,2,2.5,3,3.5,4,4.5,5,5.5,6,6.5,7,7.5,8,8.5,9,9.5,10,10.5,11,11.5,12,12.5,13,13.5,14,14.5,15,15.5,16,16.5,17], "grid": false, "tickSize": -7, "tickWidth": 1.5, "domain": false, "labels": false, "title": null, "zindex": 1}}
      }
    },
    {
      "data": {"name": "markers"},
      "mark": {"type": "point", "opacity": 0, "filled": false},
      "encoding": {
        "x": {"field": "strain", "type": "quantitative", "scale": {"domain": [0, 15], "nice": false, "zero": false}, "axis": null},
        "y": {"field": "stress", "type": "quantitative", "scale": {"domain": [0, 17], "nice": false}, "axis": null},
        "shape": {"field": "series", "type": "nominal",
          "scale": {"domain": ["1:3 - w/c=0.4", "1:3 - w/c=0.6", "1:3 - w/c=0.8", "1:0.5:4.5 - w/c=0.9", "1:0.5:4.5 - w/c=1.1", "1:0.5:4.5 - w/c=1.3", "1:1:6 - w/c=1.5", "1:1:6 - w/c=1.7", "1:1:6 - w/c=1.9"],
            "range": ["M-4.7,0H-1M1,0H4.7M-1,-1H1V1H-1Z", "M-4.7,0H-1M1,0H4.7M-1,0A1,1,0,1,0,1,0A1,1,0,1,0,-1,0Z", "M-4.7,0H-0.72M0.72,0H4.7M0,-1.25L1.3,1H-1.3Z", "M-4.7,0H-1M1,0H4.7M-1,-1H1V1H-1Z", "M-4.7,0H-1M1,0H4.7M-1,0A1,1,0,1,0,1,0A1,1,0,1,0,-1,0Z", "M-4.7,0H-0.72M0.72,0H4.7M0,-1.25L1.3,1H-1.3Z", "M-4.7,0H4.7M-1,-1H1V1H-1ZM0,-1V1", "M-4.7,0H4.7M-1,0A1,1,0,1,0,1,0A1,1,0,1,0,-1,0ZM0,-1V1", "M-4.7,0H4.7M0,-1.25L1.3,1H-1.3ZM0,-1.25V1.6"]},
          "legend": {"orient": "none", "legendX": 455, "legendY": 11, "title": null, "padding": 45, "strokeColor": "black", "fillColor": "white", "labelFontSize": 32, "labelFont": "Liberation Sans", "labelColor": "black", "labelLimit": 600, "labelOffset": 34, "symbolOffset": 25, "symbolSize": 300, "symbolStrokeWidth": 1.3, "symbolStrokeColor": "black", "symbolOpacity": 1, "rowPadding": 6.8, "zindex": 5}},
        "fill": {"field": "series", "type": "nominal",
          "scale": {"domain": ["1:3 - w/c=0.4", "1:3 - w/c=0.6", "1:3 - w/c=0.8", "1:0.5:4.5 - w/c=0.9", "1:0.5:4.5 - w/c=1.1", "1:0.5:4.5 - w/c=1.3", "1:1:6 - w/c=1.5", "1:1:6 - w/c=1.7", "1:1:6 - w/c=1.9"],
            "range": ["black", "black", "black", "white", "white", "white", "white", "white", "white"]},
          "legend": {"orient": "none", "legendX": 455, "legendY": 11, "title": null, "padding": 45, "strokeColor": "black", "fillColor": "white", "labelFontSize": 32, "labelFont": "Liberation Sans", "labelColor": "black", "labelLimit": 600, "labelOffset": 34, "symbolOffset": 25, "symbolSize": 300, "symbolStrokeWidth": 1.3, "symbolStrokeColor": "black", "symbolOpacity": 1, "rowPadding": 6.8, "zindex": 5}},
        "stroke": {"field": "series", "type": "nominal",
          "scale": {"domain": ["1:3 - w/c=0.4", "1:3 - w/c=0.6", "1:3 - w/c=0.8", "1:0.5:4.5 - w/c=0.9", "1:0.5:4.5 - w/c=1.1", "1:0.5:4.5 - w/c=1.3", "1:1:6 - w/c=1.5", "1:1:6 - w/c=1.7", "1:1:6 - w/c=1.9"],
            "range": ["black", "black", "black", "black", "black", "black", "black", "black", "black"]},
          "legend": {"orient": "none", "legendX": 455, "legendY": 11, "title": null, "padding": 45, "strokeColor": "black", "fillColor": "white", "labelFontSize": 32, "labelFont": "Liberation Sans", "labelColor": "black", "labelLimit": 600, "labelOffset": 34, "symbolOffset": 25, "symbolSize": 300, "symbolStrokeWidth": 1.3, "symbolStrokeColor": "black", "symbolOpacity": 1, "rowPadding": 6.8, "zindex": 5}}
      }
    }
  ],
  "resolve": {
    "axis": {"x": "independent", "y": "independent"},
    "scale": {"shape": "independent", "fill": "independent", "stroke": "independent"}
  }
}
